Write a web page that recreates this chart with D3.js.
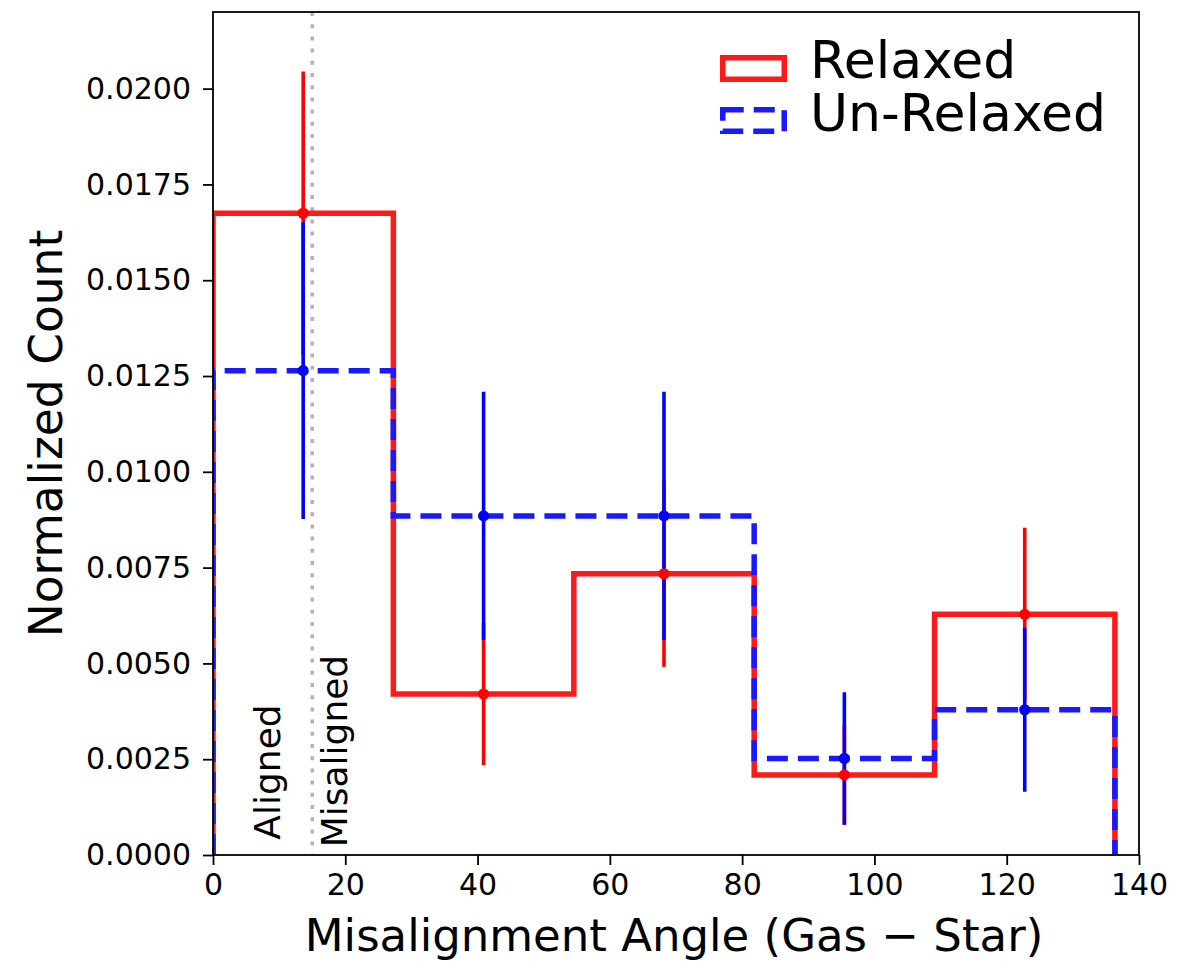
<!DOCTYPE html>
<html>
<head>
<meta charset="utf-8">
<script src="https://cdn.jsdelivr.net/npm/d3@7"></script>
<style>
  html, body { margin: 0; padding: 0; background: #ffffff; }
  svg { display: block; font-family: "DejaVu Sans", sans-serif; }
</style>
</head>
<body>
<svg id="chart" width="1184" height="961"></svg>
<script>
// Histogram bin edges (degrees)
const binEdges = [0, 27.27, 54.55, 81.82, 109.09, 136.36];

// Normalized counts and 1-sigma errors per bin
const relaxed      = [0.01675, 0.00420, 0.00734, 0.00209, 0.00628];
const relaxedErr   = [0.00370, 0.00185, 0.00243, 0.00130, 0.00226];
const unrelaxed    = [0.01264, 0.00885, 0.00885, 0.00252, 0.00379];
const unrelaxedErr = [0.00387, 0.00324, 0.00324, 0.00173, 0.00214];

// Axis ticks
const xTicks = [0, 20, 40, 60, 80, 100, 120, 140];
const yTicks = [0, 0.0025, 0.005, 0.0075, 0.01, 0.0125, 0.015, 0.0175, 0.02];

// Alignment threshold and region labels
const threshold = 15;
const regionLabels = ["Aligned", "Misaligned"];
const regionLabelX = [10.2, 20.3];
const regionLabelY = [0.0004, 0.0002];

const seriesNames = ["Relaxed", "Un-Relaxed"];

const svg = d3.select("#chart");
const W = 1184, H = 961;
const plot = { left: 213, right: 1139, top: 12, bottom: 855 };

svg.append("rect").attr("width", W).attr("height", H).attr("fill", "#ffffff");

const x = d3.scaleLinear().domain([0, 140]).range([plot.left, plot.right]);
const y = d3.scaleLinear().domain([0, 0.022]).range([plot.bottom, plot.top]);

// clip region = axes box
svg.append("defs").append("clipPath").attr("id", "plotClip")
  .append("rect")
  .attr("x", plot.left).attr("y", plot.top)
  .attr("width", plot.right - plot.left).attr("height", plot.bottom - plot.top);

const g = svg.append("g").attr("clip-path", "url(#plotClip)");

// threshold line
g.append("line")
  .attr("x1", x(threshold)).attr("x2", x(threshold))
  .attr("y1", plot.top).attr("y2", plot.bottom)
  .attr("stroke", "#b4b4b4").attr("stroke-width", 3.5)
  .attr("stroke-dasharray", "4,8.2");

// step outline of a histogram
function stepPoints(vals) {
  const pts = [[binEdges[0], 0]];
  vals.forEach((v, i) => {
    pts.push([binEdges[i], v]);
    pts.push([binEdges[i + 1], v]);
  });
  pts.push([binEdges[binEdges.length - 1], 0]);
  return pts;
}
const stepLine = d3.line().x(d => x(d[0])).y(d => y(d[1]));

g.append("path")
  .attr("d", stepLine(stepPoints(relaxed)))
  .attr("fill", "none")
  .attr("stroke", "rgb(255,25,25)")
  .attr("stroke-width", 5.5)
  .attr("stroke-linejoin", "miter");

g.append("path")
  .attr("d", stepLine(stepPoints(unrelaxed)))
  .attr("fill", "none")
  .attr("stroke", "rgb(25,25,255)")
  .attr("stroke-width", 5.5)
  .attr("stroke-dasharray", "21,10")
  .attr("stroke-linejoin", "miter");

const centers = binEdges.slice(0, -1).map((e, i) => (e + binEdges[i + 1]) / 2);

// error bar lines
function errLines(vals, errs, color) {
  g.append("g").selectAll("line").data(vals).join("line")
    .attr("x1", (d, i) => x(centers[i])).attr("x2", (d, i) => x(centers[i]))
    .attr("y1", (d, i) => y(d - errs[i])).attr("y2", (d, i) => y(d + errs[i]))
    .attr("stroke", color).attr("stroke-width", 3.6);
}
function errDots(vals, color) {
  g.append("g").selectAll("circle").data(vals).join("circle")
    .attr("cx", (d, i) => x(centers[i])).attr("cy", d => y(d))
    .attr("r", 5.6).attr("fill", color);
}
errLines(relaxed, relaxedErr, "#ff0000");
errLines(unrelaxed, unrelaxedErr, "#0000ff");
errDots(relaxed, "#ff0000");
errDots(unrelaxed, "#0000ff");

// region labels
regionLabels.forEach((t, i) => {
  const px = x(regionLabelX[i]), py = y(regionLabelY[i]);
  svg.append("text")
    .attr("transform", `translate(${px},${py}) rotate(-90)`)
    .attr("font-size", 36)
    .attr("fill", "#000")
    .text(t);
});

// frame
svg.append("rect")
  .attr("x", plot.left).attr("y", plot.top)
  .attr("width", plot.right - plot.left).attr("height", plot.bottom - plot.top)
  .attr("fill", "none").attr("stroke", "#000").attr("stroke-width", 1.8);

// axes
const xAxis = d3.axisBottom(x).tickValues(xTicks).tickSize(10).tickPadding(9)
  .tickFormat(d3.format("d"));
const yAxis = d3.axisLeft(y).tickValues(yTicks).tickSize(10).tickPadding(12)
  .tickFormat(d3.format(".4f"));

const gx = svg.append("g").attr("transform", `translate(0,${plot.bottom})`).call(xAxis);
const gy = svg.append("g").attr("transform", `translate(${plot.left},0)`).call(yAxis);
[gx, gy].forEach(a => {
  a.select(".domain").remove();
  a.selectAll(".tick line").attr("stroke", "#000").attr("stroke-width", 1.8);
  a.selectAll(".tick text").attr("font-size", 30).attr("fill", "#000")
    .attr("font-family", "DejaVu Sans, sans-serif");
});

// axis titles
svg.append("text")
  .attr("x", (plot.left + plot.right) / 2 - 2).attr("y", 951)
  .attr("text-anchor", "middle").attr("font-size", 45).attr("fill", "#000")
  .text("Misalignment Angle (Gas \u2212 Star)");

svg.append("text")
  .attr("transform", `translate(62,${(plot.top + plot.bottom) / 2}) rotate(-90)`)
  .attr("text-anchor", "middle").attr("font-size", 45.5).attr("fill", "#000")
  .text("Normalized Count");

// legend
const legend = svg.append("g");
const legendRows = [
  { name: seriesNames[0], color: "rgb(255,25,25)", dash: null, top: 55, baseline: 78 },
  { name: seriesNames[1], color: "rgb(25,25,255)", dash: "21,10", top: 107, baseline: 131 }
];
legendRows.forEach(r => {
  const rect = legend.append("rect")
    .attr("x", 720 + 2.75).attr("y", r.top + 2.75)
    .attr("width", 67 - 5.5).attr("height", 27 - 5.5)
    .attr("fill", "none").attr("stroke", r.color).attr("stroke-width", 5.5);
  if (r.dash) rect.attr("stroke-dasharray", r.dash);
  legend.append("text")
    .attr("x", 810).attr("y", r.baseline)
    .attr("font-size", 52).attr("fill", "#000")
    .text(r.name);
});
</script>
</body>
</html>
